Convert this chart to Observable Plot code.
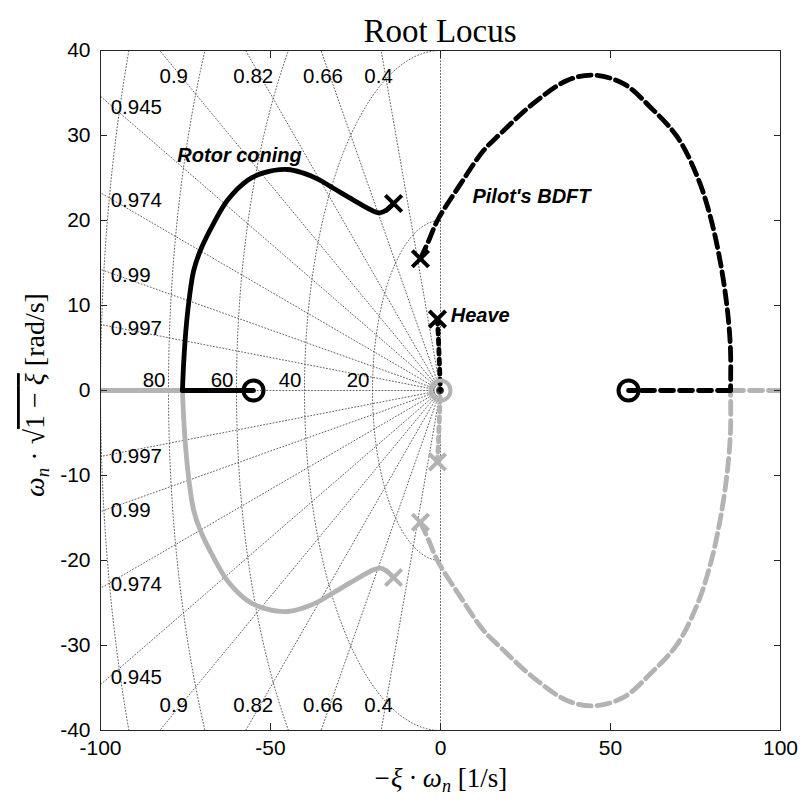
<!DOCTYPE html>
<html><head><meta charset="utf-8">
<script src="https://cdn.jsdelivr.net/npm/d3@7"></script>
<script src="https://cdn.jsdelivr.net/npm/@observablehq/plot@0.6"></script>
<style>body{margin:0;background:#fff}</style>
</head><body><div id="chart"></div>
<script>
// ---- data ----
const xTicks = [-100, -50, 0, 50, 100];
const yTicks = [-40, -30, -20, -10, 0, 10, 20, 30, 40];
const dampingValues = [0.4, 0.66, 0.82, 0.9, 0.945, 0.974, 0.99, 0.997];
const frequencyValues = [20, 40, 60, 80, 100];
const frequencyLabels = [20, 40, 60, 80];

// Rotor coning branch (upper half; lower half is its conjugate)
const rotorX = [-13.8, -16.0, -17.8, -19.7, -25.6, -31.5, -36.2, -40.5, -45.0, -52.1, -56.8, -62.6, -66.8, -70.6, -72.6, -74.0, -74.9, -75.5, -75.9];
const rotorY = [22.0, 21.2, 20.9, 21.1, 22.4, 23.8, 24.9, 25.6, 26.0, 25.6, 24.7, 22.4, 19.6, 16.5, 14.1, 10.5, 7.0, 3.5, 0];
// Pilot's BDFT branch
const bdftX = [-5.9, -3.5, -0.9, 5.9, 12.6, 17.6, 27.4, 37.4, 45.0, 53.8, 61.8, 69.7, 75.6, 79.4, 82.4, 84.4, 85.3, 85.3];
const bdftY = [15.5, 17.6, 20.0, 24.3, 28.2, 30.2, 33.8, 36.5, 37.1, 36.1, 33.3, 29.8, 25.1, 20.4, 14.9, 9.4, 4.7, 0];
// Heave branch
const heaveX = [-0.9, -0.6, -0.3, 0];
const heaveY = [8.4, 6.0, 3.0, 0];
// Real-axis segments
const rotorRealBlack = [-75.9, -55.0];
const rotorRealGray = [-75.9, -105];
const bdftRealBlack = [85.3, 55.3];
const bdftRealGray = [85.3, 105];
// Poles and zeros
const polesX = [-13.8, -5.9, -0.9];
const polesY = [22.0, 15.5, 8.4];
const zerosX = [-55.0, 55.3, 0];
// Branch names
const branchNames = ["Rotor coning", "Pilot's BDFT", "Heave"];
const branchLabelX = [-77.4, 9.4, 3.0];
const branchLabelY = [27.6, 22.8, 8.8];

// ---- build tables ----
const pts = (xs, ys) => xs.map((x, i) => ({x, y: ys[i]}));
const rotor = pts(rotorX, rotorY);
const bdft = pts(bdftX, bdftY);
const heave = pts(heaveX, heaveY);
const conj = arr => arr.map(d => ({x: d.x, y: -d.y}));
const poles = pts(polesX, polesY);
const zeros = zerosX.map(x => ({x, y: 0}));
const branchLabels = branchNames.map((name, i) => ({name, x: branchLabelX[i], y: branchLabelY[i]}));

// grid geometry
const R = 200;
const rays = [];
dampingValues.forEach(z => {
  const s = Math.sqrt(1 - z * z);
  rays.push({id: "u" + z, x: 0, y: 0}, {id: "u" + z, x: -z * R, y: s * R});
  rays.push({id: "l" + z, x: 0, y: 0}, {id: "l" + z, x: -z * R, y: -s * R});
});
rays.push({id: "z0", x: 0, y: -R}, {id: "z0", x: 0, y: R});
rays.push({id: "z1", x: 0, y: 0}, {id: "z1", x: -R, y: 0});
const circles = [];
frequencyValues.forEach(w => {
  for (let a = 90; a <= 270; a += 1) {
    const t = a * Math.PI / 180;
    circles.push({w, x: w * Math.cos(t), y: w * Math.sin(t)});
  }
});
// damping labels
const dampLabels = [];
dampingValues.forEach(z => {
  const s = Math.sqrt(1 - z * z);
  const yAtEdge = s / z * 97;
  if (yAtEdge < 37) {
    dampLabels.push({t: String(z), x: -97, y: yAtEdge, side: "left"});
    dampLabels.push({t: String(z), x: -97, y: -yAtEdge, side: "left"});
  } else {
    const x = -z / s * 37;
    dampLabels.push({t: String(z), x, y: 37, side: "top"});
    dampLabels.push({t: String(z), x, y: -37, side: "top"});
  }
});
const freqLabels = frequencyLabels.map(w => ({t: String(w), x: -w, y: 0}));

const BLACK = "#000";
const GRAY = "#b3b3b3";
const GRID = "#3a3a3a";
const dashBD = "13,6";
const dotH = "5,5";
const LW = 4.8;
const tickFont = "Liberation Sans, Arial, Helvetica, sans-serif";
const fmt = d => String(d);

const plot = Plot.plot({
  width: 802,
  height: 810,
  marginLeft: 100,
  marginRight: 22,
  marginTop: 50,
  marginBottom: 80,
  style: {fontFamily: tickFont, fontSize: "20px", background: "#fff", color: "#000"},
  x: {domain: [-100, 100], ticks: xTicks, label: null},
  y: {domain: [-40, 40], ticks: yTicks, label: null},
  marks: [
    // grid
    Plot.line(rays, {x: "x", y: "y", z: "id", stroke: GRID, strokeWidth: 0.8, strokeDasharray: "1,2.2", clip: true}),
    Plot.line(circles, {x: "x", y: "y", z: "w", stroke: GRID, strokeWidth: 0.8, strokeDasharray: "1,2.2", clip: true}),
    Plot.text(dampLabels.filter(d => d.side === "left"), {x: "x", y: "y", text: "t", textAnchor: "start", fontSize: 20.5, dy: 2, fill: "#000"}),
    Plot.text(dampLabels.filter(d => d.side === "top"), {x: "x", y: "y", text: "t", textAnchor: "middle", fontSize: 20.5, dx: -7, fill: "#000"}),
    Plot.text(freqLabels, {x: "x", y: "y", text: "t", textAnchor: "end", lineAnchor: "bottom", dx: -3, dy: -4, fontSize: 20.5, fill: "#000"}),
    // lower (gray) branches
    Plot.line(rotorRealGray.map(x => ({x, y: 0})), {x: "x", y: "y", stroke: GRAY, strokeWidth: LW, clip: true}),
    Plot.line(bdftRealGray.map(x => ({x, y: 0})), {x: "x", y: "y", stroke: GRAY, strokeWidth: LW, strokeDasharray: dashBD, clip: true}),
    Plot.line(conj(rotor), {x: "x", y: "y", stroke: GRAY, strokeWidth: LW, curve: "catmull-rom", clip: true}),
    Plot.line(conj(bdft), {x: "x", y: "y", stroke: GRAY, strokeWidth: LW, strokeDasharray: dashBD, curve: "catmull-rom", clip: true}),
    Plot.line(conj(heave), {x: "x", y: "y", stroke: GRAY, strokeWidth: LW, strokeDasharray: dotH, clip: true}),
    // upper (black) branches
    Plot.line(rotor, {x: "x", y: "y", stroke: BLACK, strokeWidth: LW, curve: "catmull-rom", clip: true}),
    Plot.line(bdft, {x: "x", y: "y", stroke: BLACK, strokeWidth: LW, strokeDasharray: dashBD, curve: "catmull-rom", clip: true}),
    Plot.line(heave, {x: "x", y: "y", stroke: BLACK, strokeWidth: LW, strokeDasharray: dotH, clip: true}),
    Plot.line(rotorRealBlack.map(x => ({x, y: 0})), {x: "x", y: "y", stroke: BLACK, strokeWidth: LW}),
    Plot.line(bdftRealBlack.map(x => ({x, y: 0})), {x: "x", y: "y", stroke: BLACK, strokeWidth: LW, strokeDasharray: dashBD}),
    // poles
    Plot.dot(conj(poles), {x: "x", y: "y", symbol: "times", r: 7.5, stroke: GRAY, strokeWidth: 4}),
    Plot.dot(poles, {x: "x", y: "y", symbol: "times", r: 7.5, stroke: BLACK, strokeWidth: 4}),
    // zeros
    Plot.dot(zeros.slice(0, 2), {x: "x", y: "y", symbol: "circle", r: 10, stroke: BLACK, strokeWidth: 4, fill: "none"}),
    Plot.dot(zeros.slice(2), {x: "x", y: "y", symbol: "circle", r: 3, stroke: BLACK, strokeWidth: 1, fill: "none"}),
    Plot.dot(zeros.slice(2), {x: "x", y: "y", symbol: "circle", r: 10, stroke: GRAY, strokeWidth: 4, fill: "none"}),
    // branch annotations
    Plot.text(branchLabels, {x: "x", y: "y", text: "name", textAnchor: "start", fontSize: 20, fontWeight: "bold", fontStyle: "italic", fill: "#000"}),
    // frame & axes
    Plot.frame({stroke: "#262626", strokeWidth: 1}),
    Plot.axisX(xTicks, {anchor: "bottom", tickSize: 0, tickPadding: 10, fontSize: 21, fill: "#000", label: null, tickFormat: fmt}),
    Plot.axisY(yTicks, {anchor: "left", tickSize: 0, tickPadding: 10, fontSize: 21, fill: "#000", label: null, tickFormat: fmt}),
    Plot.axisX(xTicks, {anchor: "bottom", tickSize: -7, tickFormat: () => "", stroke: "#262626", label: null}),
    Plot.axisX(xTicks, {anchor: "top", tickSize: -7, tickFormat: () => "", stroke: "#262626", label: null}),
    Plot.axisY(yTicks, {anchor: "left", tickSize: -7, tickFormat: () => "", stroke: "#262626", label: null}),
    Plot.axisY(yTicks, {anchor: "right", tickSize: -7, tickFormat: () => "", stroke: "#262626", label: null})
  ]
});
document.getElementById("chart").appendChild(plot);

// title and math axis labels
const svg = d3.select(plot);
const serif = "'Liberation Serif', 'DejaVu Serif', serif";
svg.append("text").attr("x", 440).attr("y", 42).attr("text-anchor", "middle")
  .attr("font-family", serif).attr("font-size", 33).attr("fill", "#000").text("Root Locus");
const xl = svg.append("text").attr("x", 440).attr("y", 787).attr("text-anchor", "middle")
  .attr("font-family", serif).attr("font-size", 27).attr("fill", "#000");
xl.append("tspan").attr("font-style", "italic").text("−ξ · ω");
xl.append("tspan").attr("font-size", 18).attr("font-style", "italic").attr("dy", 5).text("n");
xl.append("tspan").attr("dy", -5).text(" [1/s]");
const yl = svg.append("text").attr("transform", "translate(44,395) rotate(-90)").attr("text-anchor", "middle")
  .attr("font-family", serif).attr("font-size", 28).attr("fill", "#000");
yl.append("tspan").attr("font-style", "italic").text("ω");
yl.append("tspan").attr("font-size", 19).attr("font-style", "italic").attr("dy", 5).text("n");
yl.append("tspan").attr("dy", -5).text(" · √");
yl.append("tspan").attr("style", "text-decoration: overline").text("1 − ");
yl.append("tspan").attr("font-style", "italic").attr("style", "text-decoration: overline").text("ξ");
yl.append("tspan").text(" [rad/s]");
</script>
</body></html>
